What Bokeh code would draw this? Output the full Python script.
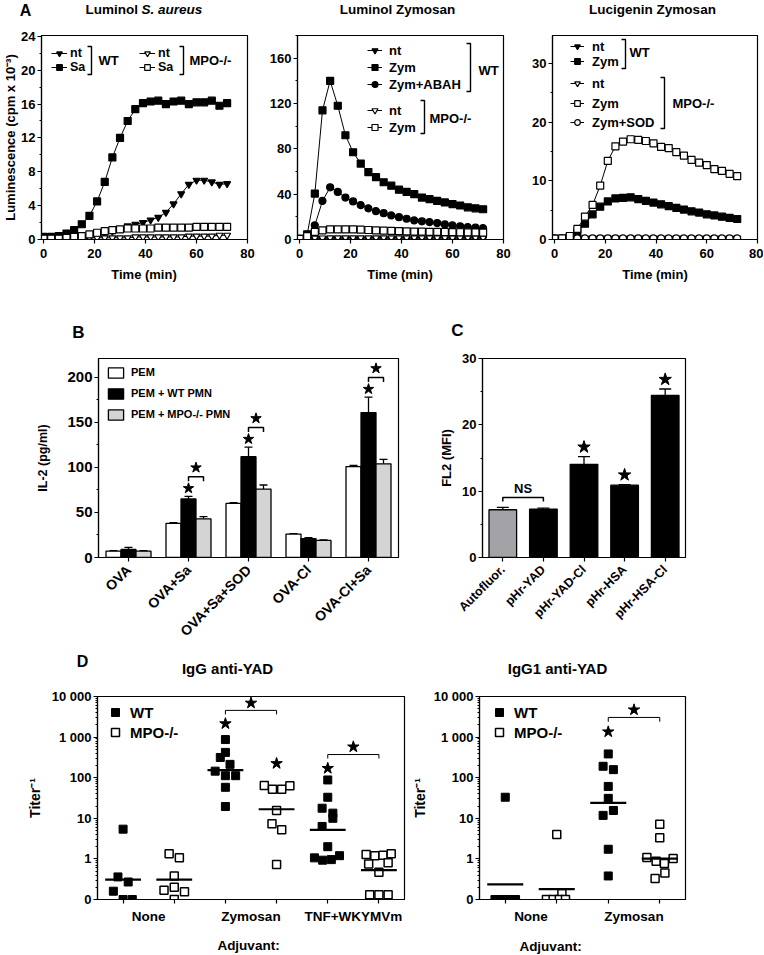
import math
from bokeh.plotting import figure
from bokeh.models import (Range1d, FixedTicker, SingleIntervalTicker, Label, Legend,
                          LegendItem, PolyAnnotation, Whisker, TeeHead, ColumnDataSource)
from bokeh.layouts import row, column
from bokeh.core.properties import value
from bokeh.embed import file_html
from bokeh.resources import INLINE

FONT = "Liberation Sans"

# ===================== DATA =====================
# ---- Panel A: chemiluminescence, readings every 3 min ----
time_min = [0, 3, 6, 9, 12, 15, 18, 21, 24, 27, 30, 33, 36, 39, 42, 45, 48, 51, 54, 57, 60, 63, 66, 69, 72]

# A1 Luminol S. aureus (cpm x 10^-3)
a1_wt_nt = [0.2, 0.2, 0.2, 0.2, 0.3, 0.3, 0.4, 0.5, 0.7, 1.0, 1.3, 1.6, 1.8, 2.0, 2.3, 2.6, 3.2, 4.2, 5.4, 6.5, 7.0, 7.0, 6.8, 6.5, 6.6]
a1_wt_sa = [0.3, 0.3, 0.4, 0.7, 1.1, 1.8, 2.8, 4.5, 6.8, 9.7, 12.0, 14.0, 15.4, 16.1, 16.3, 16.4, 16.0, 16.3, 16.4, 16.0, 16.2, 16.2, 16.4, 15.8, 16.1]
a1_mpo_nt = [0.1, 0.1, 0.1, 0.1, 0.1, 0.1, 0.2, 0.2, 0.2, 0.2, 0.2, 0.2, 0.3, 0.3, 0.3, 0.3, 0.3, 0.3, 0.3, 0.4, 0.4, 0.4, 0.4, 0.5, 0.5]
a1_mpo_sa = [0.1, 0.1, 0.1, 0.2, 0.3, 0.4, 0.6, 0.8, 1.0, 1.1, 1.2, 1.3, 1.3, 1.3, 1.3, 1.4, 1.4, 1.4, 1.4, 1.4, 1.5, 1.5, 1.5, 1.5, 1.5]

# A2 Luminol Zymosan
a2_wt_nt = [0.3, 0.4, 0.5, 0.5, 0.5, 0.5, 0.5, 0.5, 0.5, 0.5, 0.5, 0.5, 0.5, 0.5, 0.5, 0.5, 0.5, 0.5, 0.5, 0.5, 0.5, 0.5, 0.5, 0.5, 0.5]
a2_wt_zym = [0.5, 4.6, 40.5, 114, 140, 118, 92, 77, 67, 59.5, 55, 50.5, 47.5, 44, 42, 40, 37, 35.6, 34, 32.7, 31.3, 30, 28.4, 27.5, 26.7]
a2_wt_abah = [0.5, 3, 12.5, 34, 46, 42, 37, 33.6, 30.4, 27.5, 25, 23.2, 21.2, 19.7, 18.3, 16.8, 16, 15.4, 14.5, 13.3, 12.5, 11.6, 11, 10.4, 10]
a2_mpo_nt = [0.5, 1.0, 1.2, 1.3, 1.4, 1.4, 1.5, 1.5, 1.5, 1.5, 1.5, 1.5, 1.5, 1.5, 1.5, 1.5, 1.5, 1.5, 1.5, 1.5, 1.5, 1.5, 1.5, 1.5, 1.5]
a2_mpo_zym = [0.5, 3, 6.7, 8, 9, 9, 9, 9, 8.7, 8.4, 8, 7.8, 7.6, 7.4, 7.2, 7, 6.9, 6.8, 6.7, 6.6, 6.5, 6.4, 6.3, 6.2, 6.1]

# A3 Lucigenin Zymosan
a3_wt_nt = [0.2, 0.2, 0.2, 0.2, 0.2, 0.2, 0.2, 0.2, 0.2, 0.2, 0.2, 0.2, 0.2, 0.2, 0.2, 0.2, 0.2, 0.2, 0.2, 0.2, 0.2, 0.2, 0.2, 0.2, 0.2]
a3_wt_zym = [0.1, 0.1, 0.4, 1.2, 2.7, 4.3, 5.6, 6.5, 7.0, 7.1, 7.2, 6.9, 6.6, 6.3, 6.0, 5.7, 5.4, 5.1, 4.8, 4.6, 4.3, 4.1, 3.9, 3.7, 3.5]
a3_mpo_nt = [0.2, 0.2, 0.2, 0.2, 0.2, 0.2, 0.2, 0.2, 0.2, 0.2, 0.2, 0.2, 0.2, 0.2, 0.2, 0.2, 0.2, 0.2, 0.2, 0.2, 0.2, 0.2, 0.2, 0.2, 0.2]
a3_mpo_zym = [0.15, 0.2, 0.6, 1.8, 3.9, 5.9, 9.2, 13.4, 15.9, 16.7, 17.1, 17.0, 16.8, 16.4, 15.8, 15.6, 14.9, 14.3, 13.6, 13.1, 12.7, 12.0, 11.7, 11.2, 10.8]
a3_mpo_sod = [0.2, 0.2, 0.2, 0.2, 0.2, 0.2, 0.2, 0.2, 0.2, 0.2, 0.2, 0.2, 0.2, 0.2, 0.2, 0.2, 0.2, 0.2, 0.2, 0.2, 0.2, 0.2, 0.2, 0.2, 0.2]

# ---- Panel B: IL-2 (pg/ml) ----
b_groups = ["OVA", "OVA+Sa", "OVA+Sa+SOD", "OVA-Cl", "OVA-Cl+Sa"]
b_pem = [7, 38, 60, 26, 101]
b_pem_err = [0.6, 0.8, 1.0, 0.5, 1.2]
b_wt = [9, 65, 112, 21, 161]
b_wt_err = [2.2, 2.8, 10.5, 1.0, 17]
b_mpo = [7, 43, 76, 19, 104]
b_mpo_err = [0.5, 2.5, 4.5, 0.6, 5.0]
b_sig_groups = [1, 2, 4]

# ---- Panel C: FL2 (MFI) ----
c_labels = ["Autofluor.", "pHr-YAD", "pHr-YAD-Cl", "pHr-HSA", "pHr-HSA-Cl"]
c_mfi = [7.2, 7.3, 14.05, 10.9, 24.45]
c_err = [0.35, 0.15, 1.15, 0.1, 0.95]
c_sig_bars = [2, 3, 4]

# ---- Panel D: titers ----
d1_groups = ["None", "Zymosan", "TNF+WKYMVm"]
d1_wt = [[5.4, 0.36, 0.27, 0.16, 0.1, 0.1],
         [870, 420, 315, 213, 145, 112, 112, 58, 19.5],
         [88, 33, 17.7, 13.4, 10, 6.3, 2.0, 1.06, 0.93, 0.96, 1.2]]
d1_wt_jit = [[0, -0.1, 0.1, -0.19, 0, 0.18],
             [0, 0, -0.1, 0.09, -0.2, 0, 0.2, 0, 0],
             [0, 0, -0.11, 0.1, 0.1, -0.11, 0, -0.26, -0.1, 0.07, 0.23]]
d1_mpo = [[1.33, 1.06, 0.38, 0.2, 0.17, 0.155, 0.1],
          [64, 52, 52, 63, 15.5, 7.3, 5.2, 0.73],
          [1.28, 1.2, 1.23, 1.33, 0.75, 0.8, 0.47, 0.13, 0.13, 0.13]]
d1_mpo_jit = [[-0.1, 0.1, 0, 0, -0.2, 0.2, 0],
              [-0.24, -0.08, 0.1, 0.26, 0, -0.09, 0.1, 0],
              [-0.25, -0.08, 0.08, 0.24, -0.2, 0.18, 0, -0.18, 0, 0.18]]
d1_wt_mid = [0.31, 153, 5.2]
d1_mpo_mid = [0.31, 16.7, 0.53]
d1_star_x = [2, 3, 4]
d1_star_y = [2140, 224, 170]
d1_br_left = [2, 4]
d1_br_y = [4550, 372]
d1_br_drop = [3630, 297]
d1_br_star = [6900, 575]

d2_groups = ["None", "Zymosan"]
d2_wt = [[33, 0.1, 0.1, 0.1, 0.1, 0.1],
         [385, 191, 158, 61, 31, 15.6, 11.8, 1.73, 0.38]]
d2_wt_jit = [[0, -0.2, -0.1, 0, 0.1, 0.2],
             [0, -0.1, 0.1, 0, 0, 0.1, -0.1, 0, 0]]
d2_mpo = [[4.0, 0.14, 0.1, 0.1, 0.1, 0.1],
          [7.1, 3.3, 1.08, 0.88, 0.77, 1.02, 0.45, 0.33]]
d2_mpo_jit = [[0, 0.1, -0.2, -0.07, 0.05, 0.17],
              [0, 0, -0.25, -0.07, 0.09, 0.26, 0.1, -0.09]]
d2_wt_mid = [0.235, 24]
d2_mpo_mid = [0.18, 1.02]
d2_star_x = [2]
d2_star_y = [1350]
d2_br_left = [2]
d2_br_y = [3050]
d2_br_drop = [2390]
d2_br_star = [4700]

log_ticks = [0.1, 1, 10, 100, 1000, 10000]
log_tick_labels = ["0", "1", "10", "100", "1 000", "10 000"]


# ===================== HELPERS =====================
def make_fig(width, height, left, right, top, bottom, x_range, y_range, y_axis_type="linear"):
    p = figure(width=width, height=height, x_range=x_range, y_range=y_range, title=None,
               y_axis_type=y_axis_type, output_backend="svg", toolbar_location=None,
               min_border_left=left, min_border_right=right,
               min_border_top=top, min_border_bottom=bottom)
    p.toolbar.logo = None
    p.grid.visible = False
    p.outline_line_color = "black"
    p.outline_line_width = 1.2
    p.background_fill_color = "white"
    p.border_fill_color = "white"
    for ax in p.axis:
        ax.axis_line_color = "black"
        ax.axis_line_width = 1.2
        ax.major_tick_line_color = "black"
        ax.major_tick_line_width = 1.2
        ax.minor_tick_line_color = "black"
        ax.major_tick_in = 0
        ax.major_tick_out = 4
        ax.minor_tick_in = 0
        ax.minor_tick_out = 2
        ax.major_label_standoff = 2
        ax.major_label_text_font = FONT
        ax.major_label_text_font_style = "bold"
        ax.major_label_text_font_size = "13px"
        ax.major_label_text_color = "black"
        ax.axis_label_text_font = FONT
        ax.axis_label_text_font_style = "bold"
        ax.axis_label_text_font_size = "13px"
        ax.axis_label_text_color = "black"
    return p


def strip(width, height, items):
    """A blank text strip: its frame fills the whole canvas, so its labels are not clipped."""
    p = figure(width=width, height=height, x_range=Range1d(0, 1), y_range=Range1d(0, 1),
               title=None, x_axis_location=None, y_axis_location=None,
               output_backend="svg", toolbar_location=None,
               min_border=0, min_border_left=0, min_border_right=0,
               min_border_top=0, min_border_bottom=0)
    p.toolbar.logo = None
    p.grid.visible = False
    p.outline_line_color = None
    p.background_fill_color = "white"
    p.border_fill_color = "white"
    for (x, y, text, size, align, style) in items:
        p.add_layout(Label(x=x, y=height - y, x_units="screen", y_units="screen", text=text,
                           text_font=FONT, text_font_style=style, text_font_size=size,
                           text_align=align, text_baseline="middle", text_color="black"))
    return p


def txt(p, fh, x, y, text, size="13px", align="left", style="bold"):
    p.add_layout(Label(x=x, y=fh - y, x_units="screen", y_units="screen", text=text,
                       text_font=FONT, text_font_style=style, text_font_size=size,
                       text_align=align, text_baseline="middle", text_color="black"))


def bracket(p, fh, x, y0, y1, arm=4):
    xs = [x - arm, x, x, x - arm, x, x]
    ys = [fh - y0, fh - y0, fh - y1, fh - y1, fh - y1, fh - y0]
    p.add_layout(PolyAnnotation(xs=xs, ys=ys, xs_units="screen", ys_units="screen",
                                fill_alpha=0, line_color="black", line_alpha=1.0,
                                line_width=1.4))


def leg(p, fh, renderers, text, x0, yc, gw=16, gh=16, standoff=3, size="13px"):
    lg = Legend(items=[LegendItem(label=value(text), renderers=renderers)],
                location=(x0, fh - yc - gh / 2), orientation="vertical",
                padding=0, margin=0, spacing=0, glyph_width=gw, glyph_height=gh,
                label_height=gh, label_width=10, label_standoff=standoff,
                label_text_font=FONT, label_text_font_style="bold",
                label_text_font_size=size, label_text_color="black",
                label_text_baseline="middle",
                border_line_alpha=0, background_fill_alpha=0)
    p.add_layout(lg)


def ts(p, y, marker, filled, size=7):
    l = p.line(time_min, y, line_color="black", line_width=1)
    s = p.scatter(time_min, y, marker=marker, size=size,
                  fill_color="black" if filled else "white",
                  line_color="black", line_width=1.2)
    return [l, s]


def a_axes(p, y_interval):
    p.xaxis.ticker = FixedTicker(ticks=[0, 20, 40, 60, 80])
    p.xaxis.major_label_standoff = 5
    p.yaxis.ticker = SingleIntervalTicker(interval=y_interval, num_minor_ticks=2)


BOLD = "bold"

# ===================== ROW A =====================
HA = 244
top_A = strip(764, 20, [
    (25, 10, "A", "16px", "center", BOLD),
    (137.5, 9, "Luminol", "13.5px", "right", BOLD),
    (141, 9, "S. aureus", "13.5px", "left", "bold italic"),
    (397, 9, "Luminol Zymosan", "13.5px", "center", BOLD),
    (652, 9, "Lucigenin Zymosan", "13.5px", "center", BOLD),
])
bottom_A = strip(764, 26, [
    (143.5, 10, "Time (min)", "13px", "center", BOLD),
    (399.5, 10, "Time (min)", "13px", "center", BOLD),
    (654.5, 10, "Time (min)", "13px", "center", BOLD),
])

pA1 = make_fig(266, HA, 40, 19, 14, 25, Range1d(-0.8, 80), Range1d(0, 24.1))
fA1 = HA - 14 - 25
a_axes(pA1, 4)
pA1.yaxis.axis_label = "Luminescence (cpm x 10\u207b\u00b3)"
pA1.yaxis.axis_label_standoff = 0
r11 = ts(pA1, a1_wt_nt, "inverted_triangle", True)
r12 = ts(pA1, a1_wt_sa, "square", True)
r13 = ts(pA1, a1_mpo_nt, "inverted_triangle", False)
r14 = ts(pA1, a1_mpo_sa, "square", False)
leg(pA1, fA1, r11, "nt", 10, 19, gh=14, size="12.5px")
leg(pA1, fA1, r12, "Sa", 10, 33, gh=14, size="12.5px")
leg(pA1, fA1, r13, "nt", 98, 19, gh=14, size="12.5px")
leg(pA1, fA1, r14, "Sa", 98, 33, gh=14, size="12.5px")
bracket(pA1, fA1, 50, 12, 40)
bracket(pA1, fA1, 142, 12, 40)
txt(pA1, fA1, 57, 26, "WT")
txt(pA1, fA1, 148, 26, "MPO-/-")

pA2 = make_fig(262, HA, 30, 25, 15, 25, Range1d(-0.8, 80), Range1d(0, 180))
fA2 = HA - 15 - 25
a_axes(pA2, 40)
r21 = ts(pA2, a2_wt_nt, "inverted_triangle", True)
r22 = ts(pA2, a2_wt_zym, "square", True)
r23 = ts(pA2, a2_wt_abah, "circle", True)
r24 = ts(pA2, a2_mpo_nt, "inverted_triangle", False)
r25 = ts(pA2, a2_mpo_zym, "square", False)
leg(pA2, fA2, r21, "nt", 70, 15, gw=15, standoff=7)
leg(pA2, fA2, r22, "Zym", 70, 32, gw=15, standoff=7)
leg(pA2, fA2, r23, "Zym+ABAH", 70, 49, gw=15, standoff=7)
leg(pA2, fA2, r24, "nt", 70, 75, gw=15, standoff=7)
leg(pA2, fA2, r25, "Zym", 70, 92, gw=15, standoff=7)
bracket(pA2, fA2, 173, 8, 56)
bracket(pA2, fA2, 127, 65, 98)
txt(pA2, fA2, 181, 35, "WT")
txt(pA2, fA2, 132, 83, "MPO-/-")

pA3 = make_fig(235, HA, 24, 6, 15, 25, Range1d(-0.8, 80), Range1d(0, 34.8))
fA3 = HA - 15 - 25
a_axes(pA3, 10)
r31 = ts(pA3, a3_wt_nt, "inverted_triangle", True)
r32 = ts(pA3, a3_wt_zym, "square", True)
r33 = ts(pA3, a3_mpo_nt, "inverted_triangle", False)
r35 = ts(pA3, a3_mpo_sod, "circle", False)
r34 = ts(pA3, a3_mpo_zym, "square", False)
leg(pA3, fA3, r31, "nt", 18, 11, gw=14, standoff=8)
leg(pA3, fA3, r32, "Zym", 18, 26, gw=14, standoff=8)
leg(pA3, fA3, r33, "nt", 18, 48, gw=14, standoff=8)
leg(pA3, fA3, r34, "Zym", 18, 68, gw=14, standoff=8)
leg(pA3, fA3, r35, "Zym+SOD", 18, 87, gw=14, standoff=8)
bracket(pA3, fA3, 73, 4, 33)
bracket(pA3, fA3, 112, 42, 93)
txt(pA3, fA3, 77, 17, "WT")
txt(pA3, fA3, 120, 68, "MPO-/-")

# ===================== ROW B / C =====================
HB = 305
top_B = strip(764, 55, [
    (78, 42, "B", "17px", "center", BOLD),
    (457, 40, "C", "17px", "center", BOLD),
])

pB = make_fig(436, HB, 98, 38, 13, 93, Range1d(-0.5, 4.5), Range1d(0, 221))
fB = HB - 13 - 93
pB.xaxis.ticker = FixedTicker(ticks=list(range(len(b_groups))))
pB.xaxis.major_label_overrides = {i: g for i, g in enumerate(b_groups)}
pB.xaxis.major_label_orientation = math.pi / 4
pB.xaxis.major_label_standoff = 6
pB.xaxis.major_label_text_font_size = "14px"
pB.yaxis.ticker = SingleIntervalTicker(interval=50, num_minor_ticks=2)
pB.yaxis.major_label_text_font_size = "15px"
pB.yaxis.axis_label = "IL-2 (pg/ml)"
pB.yaxis.axis_label_text_font_size = "12.5px"
pB.yaxis.axis_label_standoff = 14
b_specs = [(b_pem, b_pem_err, "white", -0.25, "PEM"),
           (b_wt, b_wt_err, "black", 0.0, "PEM + WT PMN"),
           (b_mpo, b_mpo_err, "#d4d4d4", 0.25, "PEM + MPO-/- PMN")]
for k, (vals, errs, color, off, name) in enumerate(b_specs):
    src = ColumnDataSource(dict(x=[i + off for i in range(len(b_groups))], top=vals,
                                hi=[v + e for v, e in zip(vals, errs)]))
    pB.add_layout(Whisker(source=src, base="x", lower="top", upper="hi", dimension="height",
                          line_width=1.3, upper_head=TeeHead(size=8, line_width=1.3),
                          lower_head=None))
    r = pB.vbar(x="x", top="top", bottom=0, width=0.25, source=src, fill_color=color,
                line_color="black", line_width=1.3)
    leg(pB, fB, [r], name, 8, 14 + 21 * k, gw=19, gh=13, standoff=6, size="11px")
wt_hi = [b_wt[i] + b_wt_err[i] for i in b_sig_groups]
br_b = [h + 22 for h in wt_hi]
pB.scatter(b_sig_groups, [h + 9 for h in wt_hi], marker="star", size=11, color="black")
pB.multi_line([[i, i, i + 0.25, i + 0.25] for i in b_sig_groups],
              [[y - 5, y, y, y - 5] for y in br_b], line_color="black", line_width=1.5)
pB.scatter([i + 0.125 for i in b_sig_groups], [y + 10 for y in br_b], marker="star",
           size=11, color="black")

pC = make_fig(295, HB, 44, 46, 8, 93, Range1d(-0.5, 4.5), Range1d(0, 30))
pC.xaxis.ticker = FixedTicker(ticks=list(range(len(c_labels))))
pC.xaxis.major_label_overrides = {i: g for i, g in enumerate(c_labels)}
pC.xaxis.major_label_orientation = math.pi / 4
pC.xaxis.major_label_standoff = 6
pC.xaxis.major_label_text_font_size = "12.5px"
pC.yaxis.ticker = SingleIntervalTicker(interval=10, num_minor_ticks=2)
pC.yaxis.axis_label = "FL2 (MFI)"
pC.yaxis.axis_label_standoff = 5
c_hi = [v + e for v, e in zip(c_mfi, c_err)]
c_src = ColumnDataSource(dict(x=list(range(len(c_labels))), top=c_mfi, hi=c_hi,
                              color=["#a3a3a7"] + ["black"] * (len(c_labels) - 1)))
pC.add_layout(Whisker(source=c_src, base="x", lower="top", upper="hi", dimension="height",
                      line_width=1.3, upper_head=TeeHead(size=12, line_width=1.3),
                      lower_head=None))
pC.vbar(x="x", top="top", bottom=0, width=0.68, source=c_src, fill_color="color",
        line_color="black", line_width=1.3)
pC.scatter(c_sig_bars, [c_hi[i] + 1.45 for i in c_sig_bars], marker="star", size=13,
           color="black")
ns_y = max(c_hi[0], c_hi[1]) + 1.5
pC.multi_line([[0, 0, 1, 1]], [[ns_y - 0.6, ns_y, ns_y, ns_y - 0.6]], line_color="black",
              line_width=1.5)
pC.text([0.5], [ns_y + 1.3], text=["NS"], text_font=value(FONT), text_font_style="bold",
        text_font_size="13px", text_align="center", text_baseline="middle", text_color="black")


# ===================== ROW D =====================
HD = 244


def d_panel(width, left, right, label_standoff, groups, wt, wt_jit, mpo, mpo_jit,
            wt_mid, mpo_mid, star_x, star_y, br_left, br_y, br_drop, br_star):
    n = 2 * len(groups)
    p = make_fig(width, HD, left, right, 10, 31, Range1d(-0.5, n - 0.5),
                 Range1d(log_ticks[0], log_ticks[-1]), "log")
    fh = HD - 10 - 31
    p.xaxis.ticker = FixedTicker(ticks=[2 * g + 0.5 for g in range(len(groups))],
                                 minor_ticks=list(range(n)))
    p.xaxis.major_label_overrides = {2 * g + 0.5: name for g, name in enumerate(groups)}
    p.xaxis.major_tick_out = 0
    p.xaxis.minor_tick_out = 4
    p.xaxis.minor_tick_line_width = 1.2
    p.xaxis.major_label_standoff = 5
    p.xaxis.major_label_text_font_size = "13.5px"
    minors = [k * t for t in log_ticks[:-1] for k in range(2, 10)]
    p.yaxis.ticker = FixedTicker(ticks=log_ticks, minor_ticks=minors)
    p.yaxis.major_label_overrides = dict(zip(log_ticks, log_tick_labels))
    p.yaxis.axis_label = "Titer\u207b\u00b9"
    p.yaxis.axis_label_text_font_size = "14px"
    p.yaxis.axis_label_standoff = label_standoff
    wx = [2 * g + j for g, jit in enumerate(wt_jit) for j in jit]
    wy = [v for vals in wt for v in vals]
    mx = [2 * g + 1 + j for g, jit in enumerate(mpo_jit) for j in jit]
    my = [v for vals in mpo for v in vals]
    rw = p.scatter(wx, wy, marker="square", size=8, fill_color="black", line_color="black")
    rm = p.scatter(mx, my, marker="square", size=8, fill_color="white", line_color="black",
                   line_width=1.5)
    cx = [2 * g for g in range(len(groups))] + [2 * g + 1 for g in range(len(groups))]
    cy = list(wt_mid) + list(mpo_mid)
    p.segment([c - 0.35 for c in cx], cy, [c + 0.35 for c in cx], cy, line_color="black",
              line_width=2.2)
    p.scatter(star_x, star_y, marker="star", size=12, color="black")
    p.multi_line([[b, b, b + 1, b + 1] for b in br_left],
                 [[d, y, y, d] for y, d in zip(br_y, br_drop)], line_color="black",
                 line_width=1)
    p.scatter([b + 0.5 for b in br_left], br_star, marker="star", size=12, color="black")
    return p, fh, rw, rm


top_D = strip(764, 36, [
    (82, 11, "D", "16px", "center", BOLD),
    (227, 18, "IgG anti-YAD", "15px", "center", BOLD),
    (557, 18, "IgG1 anti-YAD", "15px", "center", BOLD),
])
bottom_D = strip(764, 24, [
    (248, 15, "Adjuvant:", "13.5px", "center", BOLD),
    (550, 16, "Adjuvant:", "13.5px", "center", BOLD),
])

pD1, fD, rw1, rm1 = d_panel(408, 97, 4, 6, d1_groups, d1_wt, d1_wt_jit, d1_mpo, d1_mpo_jit,
                            d1_wt_mid, d1_mpo_mid, d1_star_x, d1_star_y,
                            d1_br_left, d1_br_y, d1_br_drop, d1_br_star)
leg(pD1, fD, [rw1], "WT", 8, 16, gw=20, gh=20, standoff=5, size="15px")
leg(pD1, fD, [rm1], "MPO-/-", 8, 36, gw=20, gh=20, standoff=5, size="15px")

pD2, fD2, rw2, rm2 = d_panel(307, 70, 30, 3, d2_groups, d2_wt, d2_wt_jit, d2_mpo, d2_mpo_jit,
                             d2_wt_mid, d2_mpo_mid, d2_star_x, d2_star_y,
                             d2_br_left, d2_br_y, d2_br_drop, d2_br_star)
leg(pD2, fD2, [rw2], "WT", 10, 16, gw=20, gh=20, standoff=5, size="15px")
leg(pD2, fD2, [rm2], "MPO-/-", 10, 36, gw=20, gh=20, standoff=5, size="15px")

layout = column(
    top_A, row(pA1, pA2, pA3), bottom_A,
    top_B, row(pB, pC),
    top_D, row(pD1, pD2), bottom_D,
)
open("out.html", "w").write(file_html(layout, INLINE))
